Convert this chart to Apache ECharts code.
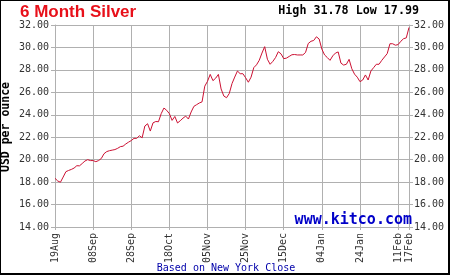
<!DOCTYPE html>
<html>
<head>
<meta charset="utf-8">
<script src="https://cdn.jsdelivr.net/npm/echarts@6/dist/echarts.min.js"></script>
<style>html,body{margin:0;padding:0;background:#fff}#c{width:450px;height:275px}</style>
</head>
<body>
<div id="c"></div>
<script>
var categories = [
"19Aug","20Aug","23Aug","24Aug","25Aug","26Aug","27Aug","30Aug","31Aug",
"01Sep","02Sep","03Sep","06Sep","07Sep","08Sep","09Sep","10Sep","13Sep","14Sep","15Sep","16Sep","17Sep","20Sep","21Sep","22Sep","23Sep","24Sep","27Sep","28Sep","29Sep","30Sep",
"01Oct","04Oct","05Oct","06Oct","07Oct","08Oct","11Oct","12Oct","13Oct","14Oct","15Oct","18Oct","19Oct","20Oct","21Oct","22Oct","25Oct","26Oct","27Oct","28Oct","29Oct",
"01Nov","02Nov","03Nov","04Nov","05Nov","08Nov","09Nov","10Nov","11Nov","12Nov","15Nov","16Nov","17Nov","18Nov","19Nov","22Nov","23Nov","24Nov","25Nov","26Nov","29Nov","30Nov",
"01Dec","02Dec","03Dec","06Dec","07Dec","08Dec","09Dec","10Dec","13Dec","14Dec","15Dec","16Dec","17Dec","20Dec","21Dec","22Dec","23Dec","24Dec","27Dec","28Dec","29Dec","30Dec","31Dec",
"03Jan","04Jan","05Jan","06Jan","07Jan","10Jan","11Jan","12Jan","13Jan","14Jan","17Jan","18Jan","19Jan","20Jan","21Jan","24Jan","25Jan","26Jan","27Jan","28Jan","31Jan",
"01Feb","02Feb","03Feb","04Feb","07Feb","08Feb","09Feb","10Feb","11Feb","14Feb","15Feb","16Feb","17Feb"
];
var silver = [
18.34,18.10,17.99,18.45,18.93,19.04,19.13,19.25,19.46,19.45,
19.66,19.88,20.00,19.92,19.92,19.82,19.92,20.10,20.53,20.72,
20.80,20.85,20.90,21.01,21.16,21.20,21.40,21.56,21.70,21.90,
21.90,22.13,21.95,23.00,23.20,22.55,23.28,23.40,23.38,24.10,
24.60,24.40,24.10,23.50,23.85,23.27,23.47,23.70,23.88,23.62,
24.25,24.75,24.90,25.05,25.15,26.55,26.98,27.60,27.04,27.26,
27.60,26.30,25.67,25.52,25.90,26.78,27.36,27.90,27.66,27.66,
27.30,26.90,27.35,28.20,28.45,28.85,29.50,30.07,28.95,28.50,
28.76,29.10,29.62,29.43,29.00,29.05,29.20,29.35,29.37,29.33,
29.33,29.33,29.55,30.35,30.55,30.62,30.95,30.75,29.85,29.33,
29.10,28.85,29.25,29.50,29.60,28.60,28.43,28.50,28.94,28.10,
27.62,27.35,26.95,27.10,27.55,27.10,27.90,28.20,28.50,28.50,
28.85,29.15,29.45,30.33,30.33,30.20,30.25,30.55,30.78,30.85,
31.78
];
var labelDates = ["19Aug","08Sep","28Sep","18Oct","05Nov","25Nov","15Dec","04Jan","24Jan","11Feb","17Feb"];
var yTicks = [14,16,18,20,22,24,26,28,30,32];
var titleText = "6 Month Silver";
var statsText = "High 31.78 Low 17.99";
var yName = "USD per ounce";
var siteText = "www.kitco.com";
var footText = "Based on New York Close";

var mono = "'DejaVu Sans Mono', 'Liberation Mono', monospace";
var gridColor = "#b0b0b0";
var isLabel = function (idx, val) { return labelDates.indexOf(categories[idx]) >= 0; };

var chart = echarts.init(document.getElementById('c'), null, {renderer: 'canvas'});
var yAxisCommon = {
  type: 'value', min: yTicks[0], max: yTicks[yTicks.length - 1], interval: 2,
  axisLine: {show: true, lineStyle: {color: gridColor, width: 1}},
  axisTick: {show: true, length: 4, lineStyle: {color: gridColor}},
  axisLabel: {fontFamily: mono, fontSize: 10, color: '#333', margin: 6,
    formatter: function (v) { return v.toFixed(2); }}
};
chart.setOption({
  animation: false,
  backgroundColor: '#fff',
  grid: {left: 55, right: 41, top: 25, bottom: 48, containLabel: false},
  xAxis: {
    type: 'category', data: categories, boundaryGap: false,
    axisLine: {show: true, lineStyle: {color: gridColor}},
    axisTick: {show: true, length: 3, interval: isLabel, lineStyle: {color: gridColor}},
    axisLabel: {interval: isLabel, rotate: 90, margin: 6, fontFamily: mono, fontSize: 10, color: '#333'},
    splitLine: {show: true, interval: isLabel, lineStyle: {color: gridColor, width: 1}}
  },
  yAxis: [
    Object.assign({}, yAxisCommon, {position: 'left',
      splitLine: {show: true, lineStyle: {color: gridColor, width: 1}}}),
    Object.assign({}, yAxisCommon, {position: 'right', splitLine: {show: false},
      axisLabel: Object.assign({}, yAxisCommon.axisLabel, {margin: 5})})
  ],
  series: [{
    type: 'line', data: silver, yAxisIndex: 0, symbol: 'none', smooth: false,
    lineStyle: {color: '#cc1133', width: 1}, z: 5
  }],
  graphic: [
    {type: 'rect', shape: {x: 0, y: 0, width: 449, height: 274}, style: {fill: 'none', stroke: '#000', lineWidth: 2}, z: 100},
    {type: 'text', x: 20, y: 12.5, style: {text: titleText, fill: '#e8101a', font: "bold 17px 'Liberation Sans', Arial, sans-serif", textVerticalAlign: 'middle'}, z: 100},
    {type: 'text', x: 419, y: 11, style: {text: statsText, fill: '#000', font: "bold 11.7px " + mono, textAlign: 'right', textVerticalAlign: 'middle'}, z: 100},
    {type: 'text', x: 6, y: 127, rotation: Math.PI / 2, style: {text: yName, fill: '#000', font: "bold 11.5px " + mono, textAlign: 'center', textVerticalAlign: 'middle'}, z: 100},
    {type: 'text', x: 412, y: 220, style: {text: siteText, fill: '#0000c8', font: "bold 15px " + mono, textAlign: 'right', textVerticalAlign: 'middle'}, z: 100},
    {type: 'text', x: 226, y: 268.5, style: {text: footText, fill: '#0000aa', font: "10px " + mono, textAlign: 'center', textVerticalAlign: 'middle'}, z: 100}
  ]
});
</script>
</body>
</html>
